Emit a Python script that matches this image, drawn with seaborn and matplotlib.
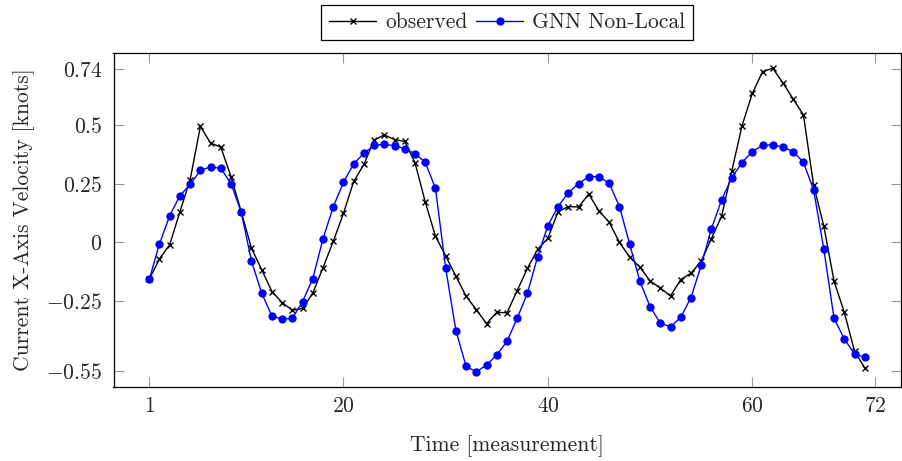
import matplotlib
matplotlib.use("Agg")
import matplotlib.pyplot as plt
import seaborn as sb
import numpy as np

# measurement index
steps = list(range(1, 72))

observed = [-0.159, -0.071, -0.011, 0.130, 0.267, 0.494, 0.423, 0.406, 0.280, 0.129,
            -0.026, -0.118, -0.211, -0.258, -0.291, -0.283, -0.218, -0.109, 0.003, 0.123,
            0.259, 0.332, 0.436, 0.458, 0.438, 0.430, 0.339, 0.172, 0.025, -0.059,
            -0.146, -0.231, -0.289, -0.348, -0.300, -0.302, -0.207, -0.112, -0.031, 0.017,
            0.130, 0.152, 0.150, 0.205, 0.133, 0.085, -0.001, -0.064, -0.107, -0.166,
            -0.196, -0.230, -0.160, -0.133, -0.081, 0.015, 0.111, 0.305, 0.498, 0.635,
            0.728, 0.743, 0.680, 0.611, 0.544, 0.243, 0.068, -0.167, -0.300, -0.465,
            -0.538]

gnn_nonlocal = [-0.159, -0.007, 0.113, 0.198, 0.247, 0.306, 0.322, 0.315, 0.250, 0.127,
                -0.081, -0.218, -0.316, -0.329, -0.325, -0.254, -0.156, 0.015, 0.150, 0.256,
                0.334, 0.380, 0.413, 0.418, 0.412, 0.399, 0.378, 0.341, 0.230, -0.111,
                -0.378, -0.531, -0.554, -0.525, -0.482, -0.424, -0.325, -0.218, -0.062, 0.071,
                0.152, 0.211, 0.250, 0.279, 0.280, 0.251, 0.152, -0.008, -0.167, -0.276,
                -0.346, -0.362, -0.321, -0.237, -0.099, 0.057, 0.181, 0.276, 0.340, 0.387,
                0.413, 0.416, 0.405, 0.387, 0.341, 0.223, -0.031, -0.326, -0.413, -0.479,
                -0.492]

xticks = [1, 20, 40, 60, 72]
yticks = [0.74, 0.5, 0.25, 0, -0.25, -0.55]
ytick_labels = ["$0.74$", "$0.5$", "$0.25$", "$0$", "$-0.25$", "$-0.55$"]

sb.set_theme(style="ticks")
plt.rcParams['font.family'] = ['cmr10', 'DejaVu Serif']
plt.rcParams['mathtext.fontset'] = 'cm'
plt.rcParams['axes.unicode_minus'] = False
plt.rcParams['axes.formatter.use_mathtext'] = True

fs = 15.5
fig = plt.figure(figsize=(9.02, 4.61), dpi=100)
ax = fig.add_axes([113.5 / 902, 1 - 387 / 461, 787 / 902, 334 / 461])

sb.lineplot(x=steps, y=observed, ax=ax, color="black", marker="x", markersize=4,
            markeredgewidth=1, markeredgecolor="black", linewidth=1, label="observed")
sb.lineplot(x=steps, y=gnn_nonlocal, ax=ax, color="#0000ff", marker="o", markersize=6,
            markeredgewidth=0, linewidth=1, label="GNN Non-Local")

ax.set_xlim(-2.5, 74.5)
ax.set_ylim(-0.619, 0.808)
ax.set_xticks(xticks)
ax.set_xticklabels(["$%d$" % t for t in xticks])
ax.set_yticks(yticks)
ax.set_yticklabels(ytick_labels)
ax.tick_params(direction="in", top=True, right=True, length=7, width=0.8,
               color="#999999", labelsize=fs)
ax.tick_params(axis="y", pad=8)
ax.tick_params(axis="x", pad=7)
for s in ax.spines.values():
    s.set_linewidth(0.9)
    s.set_color("black")

ax.set_xlabel("Time [measurement]", fontsize=fs, labelpad=14)
ax.set_ylabel("Current X-Axis Velocity [knots]", fontsize=fs, labelpad=8)

leg = ax.legend(loc="center", bbox_to_anchor=(0.5, 1.091), ncol=2, fontsize=fs,
                frameon=True, fancybox=False, edgecolor="black", framealpha=1,
                handlelength=2.2, handletextpad=0.4, columnspacing=0.4, borderpad=0.35,
                numpoints=1)
leg.get_frame().set_linewidth(0.9)

plt.savefig("out.png", dpi=100)
